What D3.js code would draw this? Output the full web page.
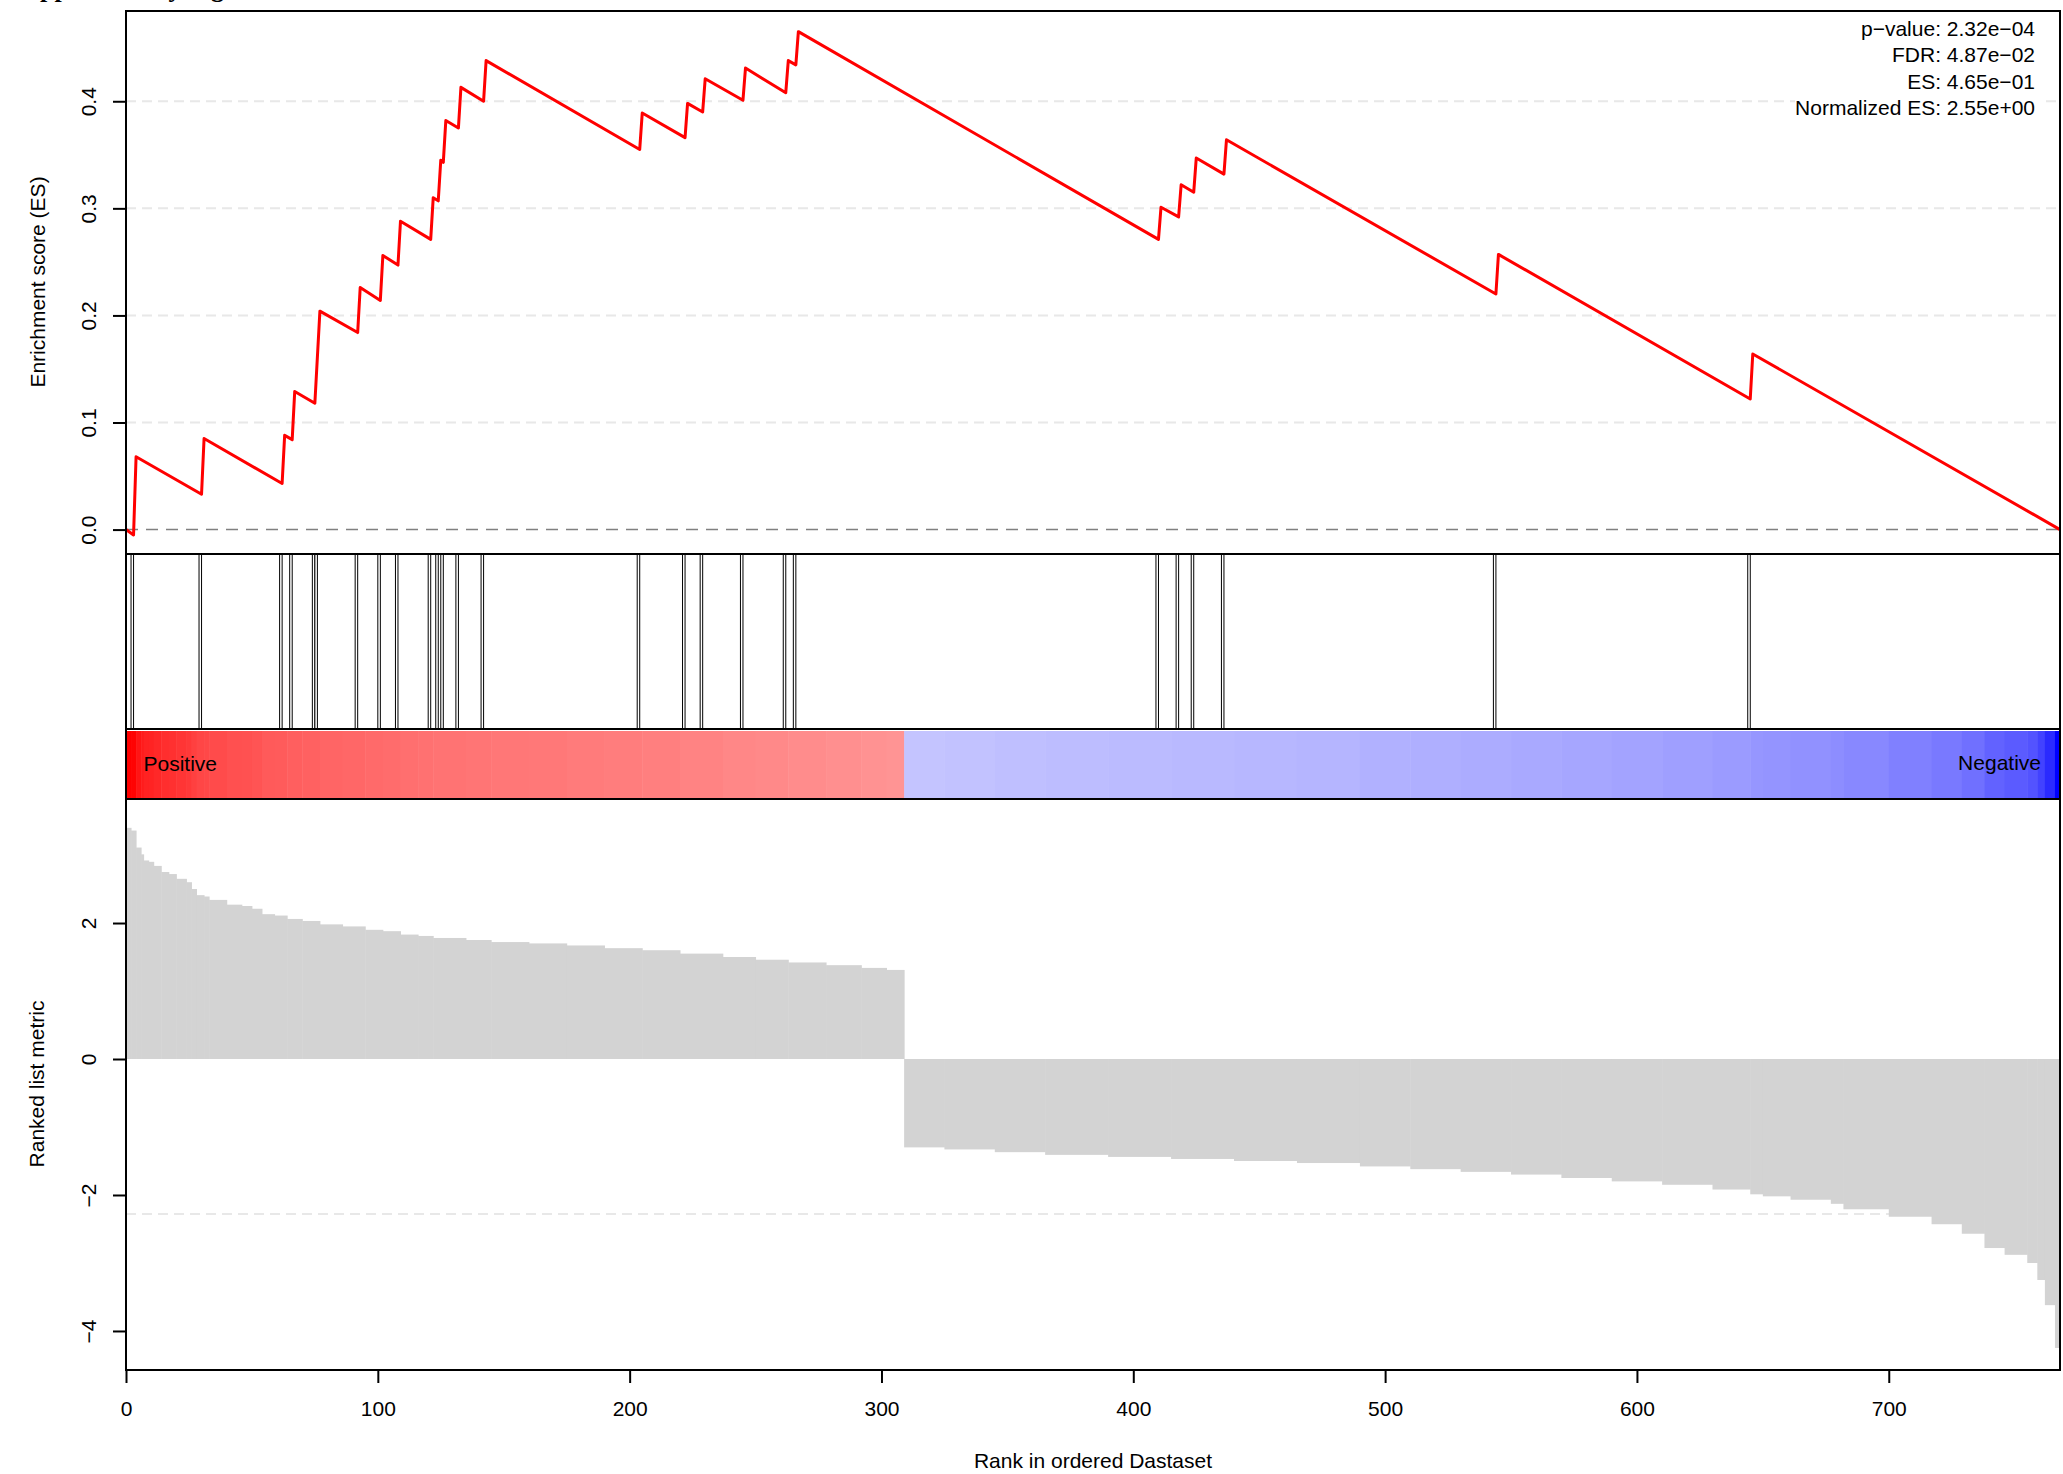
<!DOCTYPE html>
<html>
<head>
<meta charset="utf-8">
<script src="https://cdn.jsdelivr.net/npm/d3@7"></script>
<style>
  body { margin: 0; background: #fff; }
  svg { display: block; font-family: "Liberation Sans", Arial, sans-serif; }
</style>
</head>
<body>
<div id="chart"></div>
<script>
// running enrichment score, corners of the red line (rank, ES)
const esRank  = [0, 3, 4, 30, 31, 62, 63, 66, 67, 75, 77, 92, 93, 101, 102, 108, 109,
                 121, 122, 124, 125, 126, 127, 132, 133, 142, 143, 204, 205, 222, 223,
                 229, 230, 245, 246, 262, 263, 266, 267, 410, 411, 418, 419, 424, 425,
                 436, 437, 544, 545, 645, 646, 768];
const esValue = [0, -0.005, 0.068, 0.033, 0.085, 0.043, 0.088, 0.084, 0.129, 0.118, 0.204,
                 0.184, 0.226, 0.214, 0.256, 0.247, 0.288, 0.271, 0.310, 0.307, 0.345,
                 0.343, 0.382, 0.375, 0.413, 0.400, 0.438, 0.355, 0.389, 0.366, 0.398,
                 0.390, 0.421, 0.401, 0.431, 0.408, 0.438, 0.434, 0.465, 0.271, 0.301,
                 0.292, 0.322, 0.315, 0.347, 0.332, 0.364, 0.220, 0.257, 0.122, 0.164, 0.0];

// ranks of the genes in the set
const hitRank = [3, 30, 62, 66, 75, 76, 92, 101, 108, 121, 124, 126, 132, 142,
                 204, 222, 229, 245, 262, 266, 410, 418, 424, 436, 544, 645];

// ranked list metric as runs: a run starts at runStart and lasts to the next start
const runStart = [0, 2, 4, 6, 7, 9, 11, 14, 17, 20, 24, 26, 28, 31, 33, 40, 46, 50, 54, 59,
                  64, 70, 77, 86, 95, 102, 109, 116, 122, 135, 145, 160, 175, 190, 205, 220,
                  237, 250, 263, 278, 292, 302,
                  309, 325, 345, 365, 390, 415, 440, 465, 490, 510, 530, 550, 570, 590, 610,
                  630, 645, 650, 661, 677, 682, 700, 717, 729, 738, 746, 755, 759, 762, 766];
const runValue = [3.40, 3.36, 3.11, 3.01, 2.92, 2.90, 2.84, 2.75, 2.72, 2.65, 2.60, 2.50, 2.41,
                  2.39, 2.34, 2.27, 2.25, 2.21, 2.13, 2.11, 2.06, 2.03, 1.98, 1.95, 1.90, 1.88,
                  1.83, 1.81, 1.78, 1.75, 1.72, 1.70, 1.67, 1.63, 1.60, 1.55, 1.50, 1.46, 1.42,
                  1.38, 1.34, 1.31,
                  -1.30, -1.33, -1.37, -1.41, -1.44, -1.47, -1.50, -1.53, -1.58, -1.62, -1.66,
                  -1.70, -1.75, -1.80, -1.85, -1.92, -1.99, -2.02, -2.07, -2.13, -2.21, -2.32,
                  -2.43, -2.57, -2.78, -2.88, -3.00, -3.25, -3.62, -4.25];
const nGenes = 768;

const esTicks = [0, 0.1, 0.2, 0.3, 0.4];
const esGrid = [0.1, 0.2, 0.3, 0.4];
const metricTicks = [-4, -2, 0, 2];
const metricGrid = [-2.28];
const rankTicks = [0, 100, 200, 300, 400, 500, 600, 700];
const statLines = ["p\u2212value: 2.32e\u221204", "FDR: 4.87e\u221202",
                   "ES: 4.65e\u221201", "Normalized ES: 2.55e+00"];

const W = 2063, H = 1474;
const left = 126, right = 2060;
const topY = 11, hitsY = 554, barY = 729, botY = 799, baseY = 1370;

const svg = d3.select("#chart").append("svg")
    .attr("width", W)
    .attr("height", H);
svg.append("rect").attr("width", W).attr("height", H).attr("fill", "#fff");

const x = d3.scaleLinear().domain([0, nGenes]).range([left, right]);
const yES = d3.scaleLinear().domain([-0.0228, 0.4843]).range([hitsY, topY]);
const yM = d3.scaleLinear().domain([-4.574, 3.824]).range([baseY, botY]);

// title, almost all of it is above the picture
svg.append("text")
    .attr("x", 11).attr("y", -3)
    .style("font-family", "Liberation Serif")
    .style("font-weight", "bold")
    .style("font-size", "26px")
    .text("Supplementary Figure");

// ---- top panel: running ES
svg.append("g").selectAll("line")
  .data(esGrid)
  .join("line")
    .attr("x1", left).attr("x2", right)
    .attr("y1", d => yES(d)).attr("y2", d => yES(d))
    .attr("stroke", "#e8e8e8")
    .attr("stroke-width", 2)
    .attr("stroke-dasharray", "10,6");

svg.append("line")
    .attr("x1", left).attr("x2", right)
    .attr("y1", yES(0)).attr("y2", yES(0))
    .attr("stroke", "#808080")
    .attr("stroke-width", 1.5)
    .attr("stroke-dasharray", "12,8");

const esData = esRank.map((r, i) => ({r: r, v: esValue[i]}));
svg.append("path")
    .datum(esData)
    .attr("d", d3.line().x(d => x(d.r)).y(d => yES(d.v)))
    .attr("fill", "none")
    .attr("stroke", "#ff0000")
    .attr("stroke-width", 3)
    .attr("stroke-linejoin", "round");

// stats in the corner, on a white box
svg.append("rect")
    .attr("x", 1795).attr("y", 14)
    .attr("width", 248).attr("height", 110)
    .attr("fill", "#fff");
svg.append("g").selectAll("text")
  .data(statLines)
  .join("text")
    .attr("x", 2035)
    .attr("y", (d, i) => 35.5 + i * 26.5)
    .attr("text-anchor", "end")
    .style("font-size", "21px")
    .text(d => d);

// ---- hits panel
svg.append("g").selectAll("rect")
  .data(hitRank)
  .join("rect")
    .attr("x", d => x(d - 1))
    .attr("width", d => x(d) - x(d - 1))
    .attr("y", hitsY)
    .attr("height", barY - hitsY)
    .attr("fill", "#fff")
    .attr("stroke", "#000")
    .attr("stroke-width", 1);

// ---- colour bar, coloured by the metric of each run
const runs = runStart.map((s, i) => ({
  start: s,
  end: i < runStart.length - 1 ? runStart[i + 1] : nGenes,
  v: runValue[i]
}));
const posVals = runValue.filter(v => v > 0), negVals = runValue.filter(v => v < 0);
const posColor = d3.scaleLinear().domain([d3.max(posVals), d3.min(posVals)]).range(["#ff0000", "#ff9494"]);
const negColor = d3.scaleLinear().domain([d3.min(negVals), d3.max(negVals)]).range(["#0000ff", "#c4c4ff"]);

svg.append("g").selectAll("rect")
  .data(runs)
  .join("rect")
    .attr("x", d => x(d.start))
    .attr("width", d => x(d.end) - x(d.start) + 0.5)
    .attr("y", barY + 2)
    .attr("height", botY - barY - 3)
    .attr("fill", d => d.v > 0 ? posColor(d.v) : negColor(d.v));

svg.append("text")
    .attr("x", 143.5).attr("y", 770.5)
    .style("font-size", "21px")
    .text("Positive");
svg.append("text")
    .attr("x", 2041).attr("y", 769.5)
    .attr("text-anchor", "end")
    .style("font-size", "21px")
    .text("Negative");

// ---- bottom panel: ranked list metric
svg.append("g").selectAll("line")
  .data(metricGrid)
  .join("line")
    .attr("x1", left).attr("x2", right)
    .attr("y1", d => yM(d)).attr("y2", d => yM(d))
    .attr("stroke", "#e8e8e8")
    .attr("stroke-width", 2)
    .attr("stroke-dasharray", "10,6");

svg.append("g").selectAll("rect")
  .data(runs)
  .join("rect")
    .attr("x", d => x(d.start))
    .attr("width", d => x(d.end) - x(d.start) + 0.5)
    .attr("y", d => yM(Math.max(d.v, 0)))
    .attr("height", d => Math.abs(yM(d.v) - yM(0)))
    .attr("fill", "#d3d3d3");

// ---- frames
[[topY, hitsY], [hitsY, barY], [barY, botY], [botY, baseY]].forEach(function(p) {
  svg.append("rect")
      .attr("x", left).attr("y", p[0])
      .attr("width", right - left).attr("height", p[1] - p[0])
      .attr("fill", "none")
      .attr("stroke", "#000")
      .attr("stroke-width", 2);
});

// ---- axes
function styleLeft(g) {
  g.select(".domain").remove();
  g.selectAll(".tick line").attr("stroke-width", 2);
  g.selectAll(".tick text")
      .attr("x", null)
      .attr("dy", "0.35em")
      .attr("text-anchor", "middle")
      .attr("transform", "translate(-37,0) rotate(-90)");
}

svg.append("g")
    .attr("transform", `translate(${left},0)`)
    .style("font-size", "21px")
    .style("font-family", "Liberation Sans")
    .call(d3.axisLeft(yES).tickValues(esTicks).tickSize(13).tickFormat(d3.format(".1f")))
    .call(styleLeft);

svg.append("g")
    .attr("transform", `translate(${left},0)`)
    .style("font-size", "21px")
    .style("font-family", "Liberation Sans")
    .call(d3.axisLeft(yM).tickValues(metricTicks).tickSize(13))
    .call(styleLeft);

svg.append("g")
    .attr("transform", `translate(0,${baseY})`)
    .style("font-size", "21px")
    .style("font-family", "Liberation Sans")
    .call(d3.axisBottom(x).tickValues(rankTicks).tickSize(13).tickPadding(18.5))
    .call(g => g.select(".domain").remove())
    .call(g => g.selectAll(".tick line").attr("stroke-width", 2));

svg.append("text")
    .attr("transform", "translate(38,282) rotate(-90)")
    .attr("dy", "0.35em")
    .attr("text-anchor", "middle")
    .style("font-size", "21px")
    .text("Enrichment score (ES)");

svg.append("text")
    .attr("transform", "translate(37,1084) rotate(-90)")
    .attr("dy", "0.35em")
    .attr("text-anchor", "middle")
    .style("font-size", "21px")
    .text("Ranked list metric");

svg.append("text")
    .attr("x", (left + right) / 2).attr("y", 1467.5)
    .attr("text-anchor", "middle")
    .style("font-size", "21px")
    .text("Rank in ordered Dastaset");
</script>
</body>
</html>
